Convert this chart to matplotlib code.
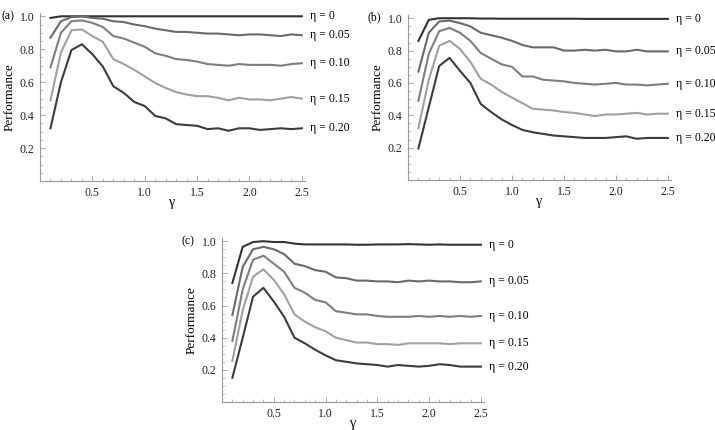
import numpy as np
import matplotlib
matplotlib.use("Agg")
import matplotlib.pyplot as plt
from matplotlib.ticker import MultipleLocator

plt.rcParams['font.family'] = ['Liberation Serif', 'DejaVu Serif']

gamma = np.round(np.arange(1, 26) * 0.1, 1)
etas = ["0", "0.05", "0.10", "0.15", "0.20"]
colors = ["#333333", "#6a6a6a", "#7e7e7e", "#a0a0a0", "#3c3c3c"]

# panel (a)
a_eta0 = [0.99, 1.0] + [1.0] * 23
a_eta05 = [0.87, 0.97, 0.995, 1.0, 0.99, 0.985, 0.97, 0.965, 0.95, 0.94, 0.925, 0.915, 0.905,
           0.905, 0.9, 0.895, 0.895, 0.89, 0.885, 0.89, 0.89, 0.885, 0.88, 0.89, 0.885]
a_eta10 = [0.69, 0.90, 0.97, 0.975, 0.96, 0.935, 0.88, 0.865, 0.84, 0.815, 0.775, 0.76, 0.74,
           0.735, 0.725, 0.71, 0.705, 0.70, 0.71, 0.705, 0.705, 0.705, 0.70, 0.71, 0.715]
a_eta15 = [0.49, 0.78, 0.915, 0.92, 0.88, 0.845, 0.74, 0.71, 0.675, 0.635, 0.595, 0.565, 0.54,
           0.525, 0.515, 0.515, 0.505, 0.49, 0.505, 0.495, 0.495, 0.49, 0.5, 0.51, 0.5]
a_eta20 = [0.32, 0.60, 0.795, 0.83, 0.77, 0.695, 0.575, 0.535, 0.48, 0.455, 0.395, 0.38, 0.345,
           0.34, 0.335, 0.315, 0.32, 0.305, 0.32, 0.32, 0.31, 0.315, 0.32, 0.315, 0.32]

# panel (b)
b_eta0 = [0.86, 0.99, 1.0, 1.0, 1.0, 1.0, 0.998, 0.998, 0.997, 0.997, 0.997, 0.997, 0.997,
          0.997, 0.997, 0.997, 0.996, 0.996, 0.996, 0.996, 0.996, 0.996, 0.996, 0.996, 0.996]
b_eta05 = [0.67, 0.91, 0.98, 0.985, 0.97, 0.95, 0.91, 0.895, 0.88, 0.86, 0.835, 0.82, 0.82,
           0.82, 0.8, 0.8, 0.805, 0.8, 0.805, 0.795, 0.795, 0.805, 0.795, 0.795, 0.795]
b_eta10 = [0.49, 0.78, 0.92, 0.94, 0.91, 0.86, 0.785, 0.75, 0.715, 0.70, 0.64, 0.64, 0.62,
           0.615, 0.61, 0.60, 0.595, 0.59, 0.595, 0.60, 0.59, 0.59, 0.585, 0.59, 0.595]
b_eta15 = [0.32, 0.62, 0.83, 0.86, 0.81, 0.73, 0.625, 0.59, 0.545, 0.51, 0.475, 0.44, 0.435,
           0.43, 0.42, 0.415, 0.405, 0.395, 0.405, 0.405, 0.41, 0.415, 0.405, 0.41, 0.41]
b_eta20 = [0.195, 0.45, 0.705, 0.755, 0.675, 0.60, 0.47, 0.42, 0.375, 0.34, 0.31, 0.295, 0.285,
           0.275, 0.27, 0.265, 0.26, 0.26, 0.26, 0.265, 0.27, 0.255, 0.26, 0.26, 0.26]

# panel (c)
c_eta0 = [0.74, 0.965, 0.995, 1.0, 0.995, 0.995, 0.985, 0.98, 0.98, 0.98, 0.98, 0.98, 0.978,
          0.978, 0.98, 0.98, 0.98, 0.982, 0.98, 0.978, 0.98, 0.978, 0.978, 0.978, 0.978]
c_eta05 = [0.54, 0.84, 0.95, 0.965, 0.95, 0.92, 0.86, 0.845, 0.82, 0.81, 0.775, 0.77, 0.755,
           0.755, 0.75, 0.75, 0.745, 0.755, 0.75, 0.755, 0.75, 0.75, 0.745, 0.745, 0.75]
c_eta10 = [0.38, 0.70, 0.885, 0.91, 0.86, 0.81, 0.71, 0.68, 0.635, 0.62, 0.565, 0.555, 0.545,
           0.545, 0.535, 0.53, 0.53, 0.53, 0.535, 0.53, 0.535, 0.53, 0.535, 0.53, 0.535]
c_eta15 = [0.255, 0.57, 0.78, 0.825, 0.76, 0.67, 0.545, 0.50, 0.465, 0.44, 0.40, 0.385, 0.37,
           0.37, 0.36, 0.36, 0.355, 0.365, 0.365, 0.365, 0.365, 0.36, 0.365, 0.365, 0.365]
c_eta20 = [0.15, 0.40, 0.655, 0.71, 0.625, 0.53, 0.40, 0.365, 0.325, 0.29, 0.26, 0.25, 0.24,
           0.235, 0.23, 0.22, 0.23, 0.225, 0.22, 0.225, 0.235, 0.23, 0.22, 0.22, 0.22]

# axes box in pixels (left, bottom, right, top) and tag position
panels = [
    ("(a)", [a_eta0, a_eta05, a_eta10, a_eta15, a_eta20], (40, 181, 305, 13), (1, 16)),
    ("(b)", [b_eta0, b_eta05, b_eta10, b_eta15, b_eta20], (408, 180, 671, 15), (368, 17)),
    ("(c)", [c_eta0, c_eta05, c_eta10, c_eta15, c_eta20], (222, 402, 484, 238), (181, 241)),
]

W, H = 715, 430
fig = plt.figure(figsize=(W / 100, H / 100), dpi=100)

for tag, series, (x0, y0, x1, y1), (tx, ty) in panels:
    ax = fig.add_axes([x0 / W, (H - y0) / H, (x1 - x0) / W, (y0 - y1) / H])
    for vals, col, eta in zip(series, colors, etas):
        ax.plot(gamma, vals, color=col, lw=1.5)
        ax.annotate("η = " + eta, xy=(2.5, vals[-1]), xytext=(6, 0),
                    textcoords="offset points", va="center", ha="left", fontsize=8.5)
    ax.set_xlim(0, 2.53)
    ax.set_ylim(0, 1.02)
    ax.set_xticks([0.5, 1.0, 1.5, 2.0, 2.5])
    ax.set_yticks([0.2, 0.4, 0.6, 0.8, 1.0])
    ax.xaxis.set_minor_locator(MultipleLocator(0.1))
    ax.yaxis.set_minor_locator(MultipleLocator(0.05))
    for s in ["top", "right"]:
        ax.spines[s].set_visible(False)
    for s in ["left", "bottom"]:
        ax.spines[s].set_color("#999999")
        ax.spines[s].set_linewidth(0.8)
    ax.tick_params(which="major", direction="in", length=3.5, width=0.6, color="#999999",
                   labelsize=8.5, labelcolor="#222222", pad=4)
    ax.tick_params(which="minor", direction="in", length=2, width=0.5, color="#aaaaaa")
    ax.set_xlabel("γ", fontsize=10, labelpad=-2)
    ax.set_ylabel("Performance", fontsize=9.5, labelpad=3)
    fig.text(tx / W, 1 - ty / H, tag, ha="left", va="center", fontsize=8.5)

fig.savefig("out.png", dpi=100)
